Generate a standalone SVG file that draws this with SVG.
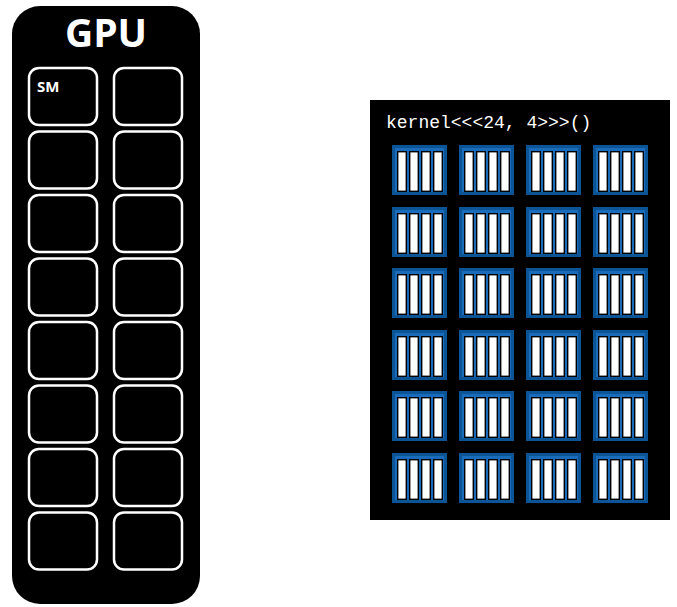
<svg xmlns="http://www.w3.org/2000/svg" width="677" height="607" viewBox="0 0 677 607">
<defs>
<style>
.sm{fill:#000;stroke:#fff;stroke-width:2.5}
.blk{fill:#1a6cba;stroke:#0b5596;stroke-width:3}
.bar{fill:#fff;stroke:#000;stroke-width:1.4}
.lbl{font-family:"Open Sans","Liberation Sans",sans-serif;font-weight:bold;fill:#fff}
</style>
<g id="block">
<rect class="blk" x="1.5" y="1.5" width="52" height="47"/>
<rect class="bar" x="5.7" y="6.7" width="8.6" height="39.6"/>
<rect class="bar" x="17.7" y="6.7" width="8.6" height="39.6"/>
<rect class="bar" x="29.7" y="6.7" width="8.6" height="39.6"/>
<rect class="bar" x="41.7" y="6.7" width="8.6" height="39.6"/>
</g>
<rect id="smbox" class="sm" x="0" y="0" width="68" height="57" rx="10"/>
</defs>
<rect width="677" height="607" fill="#fff"/>
<g id="gpu">
<rect x="12" y="6" width="188" height="598" rx="28" fill="#000"/>
<text class="lbl" x="106" y="47" font-size="39" text-anchor="middle">GPU</text>
</g>
<g id="sms">
<use href="#smbox" x="29" y="68"/><use href="#smbox" x="114" y="68"/>
<use href="#smbox" x="29" y="131.5"/><use href="#smbox" x="114" y="131.5"/>
<use href="#smbox" x="29" y="195"/><use href="#smbox" x="114" y="195"/>
<use href="#smbox" x="29" y="258.5"/><use href="#smbox" x="114" y="258.5"/>
<use href="#smbox" x="29" y="322"/><use href="#smbox" x="114" y="322"/>
<use href="#smbox" x="29" y="385.5"/><use href="#smbox" x="114" y="385.5"/>
<use href="#smbox" x="29" y="449"/><use href="#smbox" x="114" y="449"/>
<use href="#smbox" x="29" y="512.5"/><use href="#smbox" x="114" y="512.5"/>
<text class="lbl" x="37" y="92" font-size="15">SM</text>
</g>
<g id="kernel">
<rect x="370" y="100" width="300" height="420" fill="#000"/>
<text x="386" y="128" font-family="'Liberation Mono','Courier New',monospace" font-size="18" fill="#fff">kernel&lt;&lt;&lt;24, 4&gt;&gt;&gt;()</text>
<use href="#block" x="392" y="145"/><use href="#block" x="459" y="145"/><use href="#block" x="526" y="145"/><use href="#block" x="593" y="145"/>
<use href="#block" x="392" y="207"/><use href="#block" x="459" y="207"/><use href="#block" x="526" y="207"/><use href="#block" x="593" y="207"/>
<use href="#block" x="392" y="268"/><use href="#block" x="459" y="268"/><use href="#block" x="526" y="268"/><use href="#block" x="593" y="268"/>
<use href="#block" x="392" y="330"/><use href="#block" x="459" y="330"/><use href="#block" x="526" y="330"/><use href="#block" x="593" y="330"/>
<use href="#block" x="392" y="391"/><use href="#block" x="459" y="391"/><use href="#block" x="526" y="391"/><use href="#block" x="593" y="391"/>
<use href="#block" x="392" y="453"/><use href="#block" x="459" y="453"/><use href="#block" x="526" y="453"/><use href="#block" x="593" y="453"/>
</g>
</svg>
